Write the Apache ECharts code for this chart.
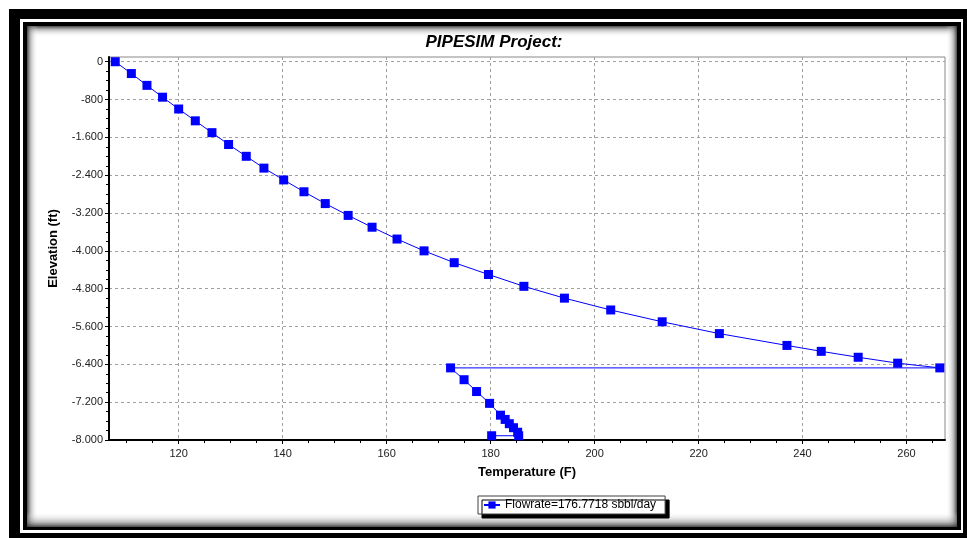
<!DOCTYPE html>
<html>
<head>
<meta charset="utf-8">
<script src="https://cdn.jsdelivr.net/npm/echarts@6/dist/echarts.min.js"></script>
<style>html,body{margin:0;padding:0;background:#fff;}#c{width:967px;height:538px;}</style>
</head>
<body>
<div id="c"></div>
<script>
// Temperature (F) and Elevation (ft)
const temperature = [107.8, 110.9, 113.9, 116.9, 120.0, 123.2, 126.4, 129.6, 133.0, 136.4,
  140.2, 144.1, 148.2, 152.6, 157.2, 162.0, 167.2, 173.0, 179.6, 186.4,
  194.2, 203.1, 213.0, 224.0, 237.0, 243.6, 250.7, 258.3, 266.4,
  172.3, 174.9, 177.3, 179.8, 181.9, 182.8, 183.6, 184.4, 185.2, 185.4, 180.2];
const elevation = [0, -250, -500, -750, -1000, -1250, -1500, -1750, -2000, -2250,
  -2500, -2750, -3000, -3250, -3500, -3750, -4000, -4250, -4500, -4750,
  -5000, -5250, -5500, -5750, -6000, -6125, -6250, -6375, -6475,
  -6475, -6725, -6975, -7225, -7475, -7565, -7655, -7740, -7835, -7910, -7910];
const xTicks = [120, 140, 160, 180, 200, 220, 240, 260];
const xMinorTicks = [110, 115, 125, 130, 135, 145, 150, 155, 165, 170, 175, 185, 190, 195,
  205, 210, 215, 225, 230, 235, 245, 250, 255, 265];
const yTicks = [0, -800, -1600, -2400, -3200, -4000, -4800, -5600, -6400, -7200, -8000];
const yMinorTicks = [-200, -400, -600, -1000, -1200, -1400, -1800, -2000, -2200, -2600, -2800, -3000,
  -3400, -3600, -3800, -4200, -4400, -4600, -5000, -5200, -5400, -5800, -6000, -6200,
  -6600, -6800, -7000, -7400, -7600, -7800];
const seriesName = 'Flowrate=176.7718 sbbl/day';
const chartTitle = 'PIPESIM Project:';

const FONT = 'Arial, "Liberation Sans", sans-serif';
const data = temperature.map((t, i) => [t, elevation[i]]);
function fmtY(v) {
  const a = Math.abs(Math.round(v));
  let s = a >= 1000 ? Math.floor(a / 1000) + '.' + String(a % 1000).padStart(3, '0') : String(a);
  return (v < 0 ? '-' : '') + s;
}
const X_MIN = 106.6, X_MAX = 267.4, Y_MIN = -8000, Y_MAX = 100;

function strip(x, y, w, h, dir) {
  let g;
  if (dir === 'top') g = {x: 0, y: 0, x2: 0, y2: 1};
  if (dir === 'bottom') g = {x: 0, y: 1, x2: 0, y2: 0};
  if (dir === 'left') g = {x: 0, y: 0, x2: 1, y2: 0};
  if (dir === 'right') g = {x: 1, y: 0, x2: 0, y2: 0};
  return {
    type: 'rect', z: -5, silent: true,
    shape: {x: x, y: y, width: w, height: h},
    style: {fill: {type: 'linear', x: g.x, y: g.y, x2: g.x2, y2: g.y2, colorStops: [
      {offset: 0, color: 'rgba(50,50,50,0.9)'},
      {offset: 0.35, color: 'rgba(130,130,130,0.5)'},
      {offset: 1, color: 'rgba(255,255,255,0)'}]}}
  };
}

const chart = echarts.init(document.getElementById('c'), null, {renderer: 'canvas'});
chart.setOption({
  animation: false,
  backgroundColor: '#fff',
  graphic: [
    {type: 'rect', z: -10, silent: true, shape: {x: 9, y: 9, width: 958, height: 529}, style: {fill: '#000'}},
    {type: 'rect', z: -9, silent: true, shape: {x: 20, y: 19, width: 943, height: 514}, style: {fill: '#fff'}},
    {type: 'rect', z: -8, silent: true, shape: {x: 23, y: 22, width: 938, height: 508}, style: {fill: '#000'}},
    {type: 'rect', z: -7, silent: true, shape: {x: 27, y: 26, width: 930, height: 501}, style: {fill: '#fff'}},
    strip(27, 26, 930, 11, 'top'),
    strip(27, 26, 11, 501, 'left'),
    strip(946, 26, 11, 501, 'right'),
    strip(27, 512, 930, 15, 'bottom'),
    {type: 'text', z: 10, x: 494, y: 34,
      style: {text: chartTitle, font: 'italic bold 17px ' + FONT, fill: '#000', textAlign: 'center'}}
  ],
  grid: {left: 109, right: 22, top: 57, bottom: 98, show: true, backgroundColor: '#fff',
    borderColor: '#8a8a8a', borderWidth: 1},
  legend: {
    left: 478, top: 496, orient: 'horizontal',
    padding: [3, 9, 3, 5],
    itemWidth: 16, itemHeight: 9, itemGap: 5,
    backgroundColor: '#fff', borderColor: '#404040', borderWidth: 1,
    shadowColor: '#000', shadowOffsetX: 4, shadowOffsetY: 4, shadowBlur: 0,
    textStyle: {fontSize: 12, color: '#000', fontFamily: FONT},
    data: [seriesName]
  },
  xAxis: [{
    type: 'value', min: X_MIN, max: X_MAX, position: 'bottom',
    name: 'Temperature (F)', nameLocation: 'middle', nameGap: 26,
    nameTextStyle: {fontSize: 13, fontWeight: 'bold', color: '#000', fontFamily: FONT},
    axisLine: {show: true, onZero: false, lineStyle: {color: '#000', width: 2}},
    axisTick: {show: true, length: 4, customValues: xTicks, lineStyle: {color: '#000'}},
    axisLabel: {customValues: xTicks, margin: 8, fontSize: 11, color: '#222', fontFamily: FONT},
    splitLine: {show: true, lineStyle: {color: '#a0a0a0', type: [3, 3], width: 1}}
  }, {
    type: 'value', min: X_MIN, max: X_MAX, position: 'bottom',
    axisLine: {show: false, onZero: false}, axisLabel: {show: false}, splitLine: {show: false},
    axisTick: {show: true, length: 3, customValues: xMinorTicks, lineStyle: {color: '#000'}}
  }],
  yAxis: [{
    type: 'value', min: Y_MIN, max: Y_MAX, position: 'left',
    name: 'Elevation (ft)', nameLocation: 'middle', nameGap: 49, nameRotate: 90,
    nameTextStyle: {fontSize: 13, fontWeight: 'bold', color: '#000', fontFamily: FONT},
    axisLine: {show: true, onZero: false, lineStyle: {color: '#000', width: 2}},
    axisTick: {show: true, length: 4, customValues: yTicks, lineStyle: {color: '#000'}},
    axisLabel: {customValues: yTicks, margin: 6, fontSize: 11, color: '#222', fontFamily: FONT,
      formatter: fmtY},
    splitLine: {show: true, lineStyle: {color: '#a0a0a0', type: [3, 3], width: 1}}
  }, {
    type: 'value', min: Y_MIN, max: Y_MAX, position: 'left',
    axisLine: {show: false, onZero: false}, axisLabel: {show: false}, splitLine: {show: false},
    axisTick: {show: true, length: 3, customValues: yMinorTicks, lineStyle: {color: '#000'}}
  }],
  series: [{
    name: seriesName, type: 'line', xAxisIndex: 0, yAxisIndex: 0,
    data: data,
    symbol: 'rect', symbolSize: 9, showAllSymbol: true,
    clip: true,
    lineStyle: {color: '#0000ff', width: 1},
    itemStyle: {color: '#0000ff', borderWidth: 0},
    color: '#0000ff'
  }]
});
</script>
</body>
</html>
